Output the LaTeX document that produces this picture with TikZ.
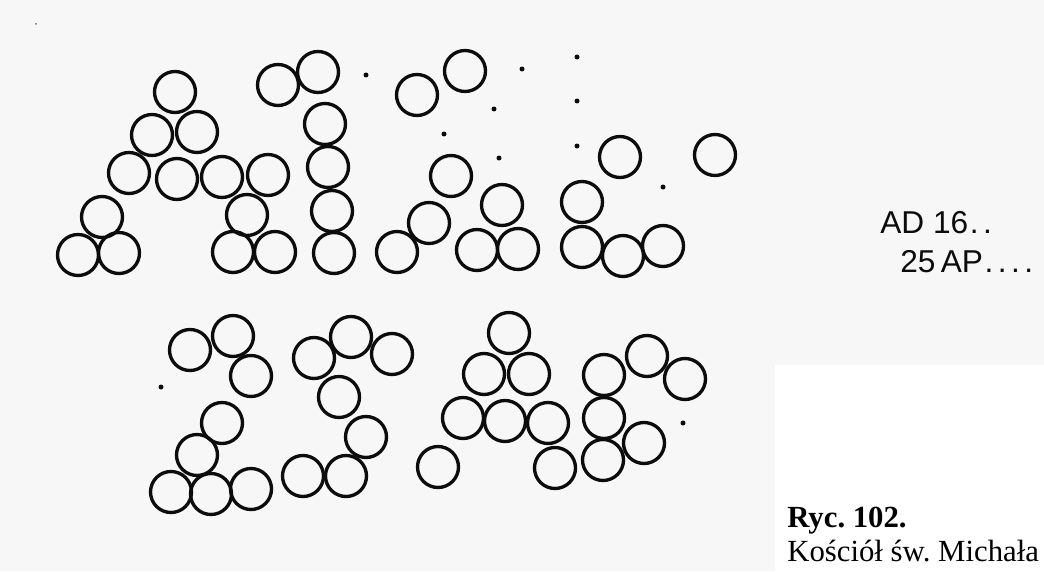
\documentclass[tikz,border=0pt]{standalone}
\usepackage{fontspec}
\setmainfont{Liberation Serif}
\newfontfamily\stampfont{Liberation Sans}
\usepackage{tikz}
\usetikzlibrary{positioning}
\usepackage{xcolor}
\definecolor{ink}{RGB}{12,12,12}
\definecolor{paper}{RGB}{247,247,247}
\newcommand{\spdots}[1]{\foreach \k in {1,...,#1}{.\kern2.5pt}}

\begin{document}
\frenchspacing
\begin{tikzpicture}[x=0.02cm, y=-0.02cm,
  ring/.style={circle, draw=ink, line width=1.9pt, minimum size=0.82cm, inner sep=0pt},
  speck/.style={circle, fill=ink, minimum size=0.1cm, inner sep=0pt},
  stamp/.style={font=\stampfont\fontsize{18}{20}\selectfont, text=ink, anchor=base west, inner sep=0pt},
  caption/.style={font=\fontsize{17.5}{20}\selectfont, anchor=base west, inner sep=0pt}
]
\useasboundingbox (0,0) rectangle (1044,571);
% scanned page and the white caption corner
\fill[paper] (0,0) rectangle (1044,571);
\fill[white] (775,365) rectangle (1044,571);

% upper row of rings
\foreach \px/\py [count=\i] in {
  175/92, 152/135, 197/132, 129/173, 177/179, 222/177, 268/175,
  102/217, 78/255, 119/253, 247/215, 233/252, 275/252,
  278/85, 318/72, 325/124, 328/167, 332/211, 334/253,
  417/95, 465/71, 451/176, 429/223, 397/252, 477/250, 518/249, 502/205,
  582/202, 582/247, 620/157, 623/256, 663/246, 715/155}
  \node[ring] (up\i) at (\px,\py) {};

% lower row of rings
\foreach \px/\py [count=\i] in {
  190/350, 233/336, 251/376, 222/423, 197/455, 171/492, 211/494, 251/489,
  314/358, 351/337, 392/354, 339/397, 366/437, 346/476, 303/476,
  509/333, 484/374, 529/374, 463/418, 505/421, 548/423, 438/467, 555/468,
  604/375, 647/356, 685/379, 604/418, 603/460, 644/443}
  \node[ring] (low\i) at (\px,\py) {};

% dots
\foreach \px/\py [count=\i] in {
  366/75, 444/134, 494/109, 499/158, 522/69, 577/57, 577/101, 577/146,
  663/187, 161/387, 683/423}
  \node[speck] (dot\i) at (\px,\py) {};
\node[speck, minimum size=0.04cm, fill=ink!60] (fleck) at (36,24) {};

% inset with the date
\node[stamp] (date) at (880,233) {AD 16\kern1pt\spdots{2}};
\node[stamp] (year) at (900,272) {25\,AP\kern1pt\spdots{4}};

% caption
\node[caption] (ryc) at (787,527) {\textbf{Ryc. 102.}};
\node[caption] (kosciol) at (787,561) {Kościół św. Michała};
\end{tikzpicture}
\end{document}
